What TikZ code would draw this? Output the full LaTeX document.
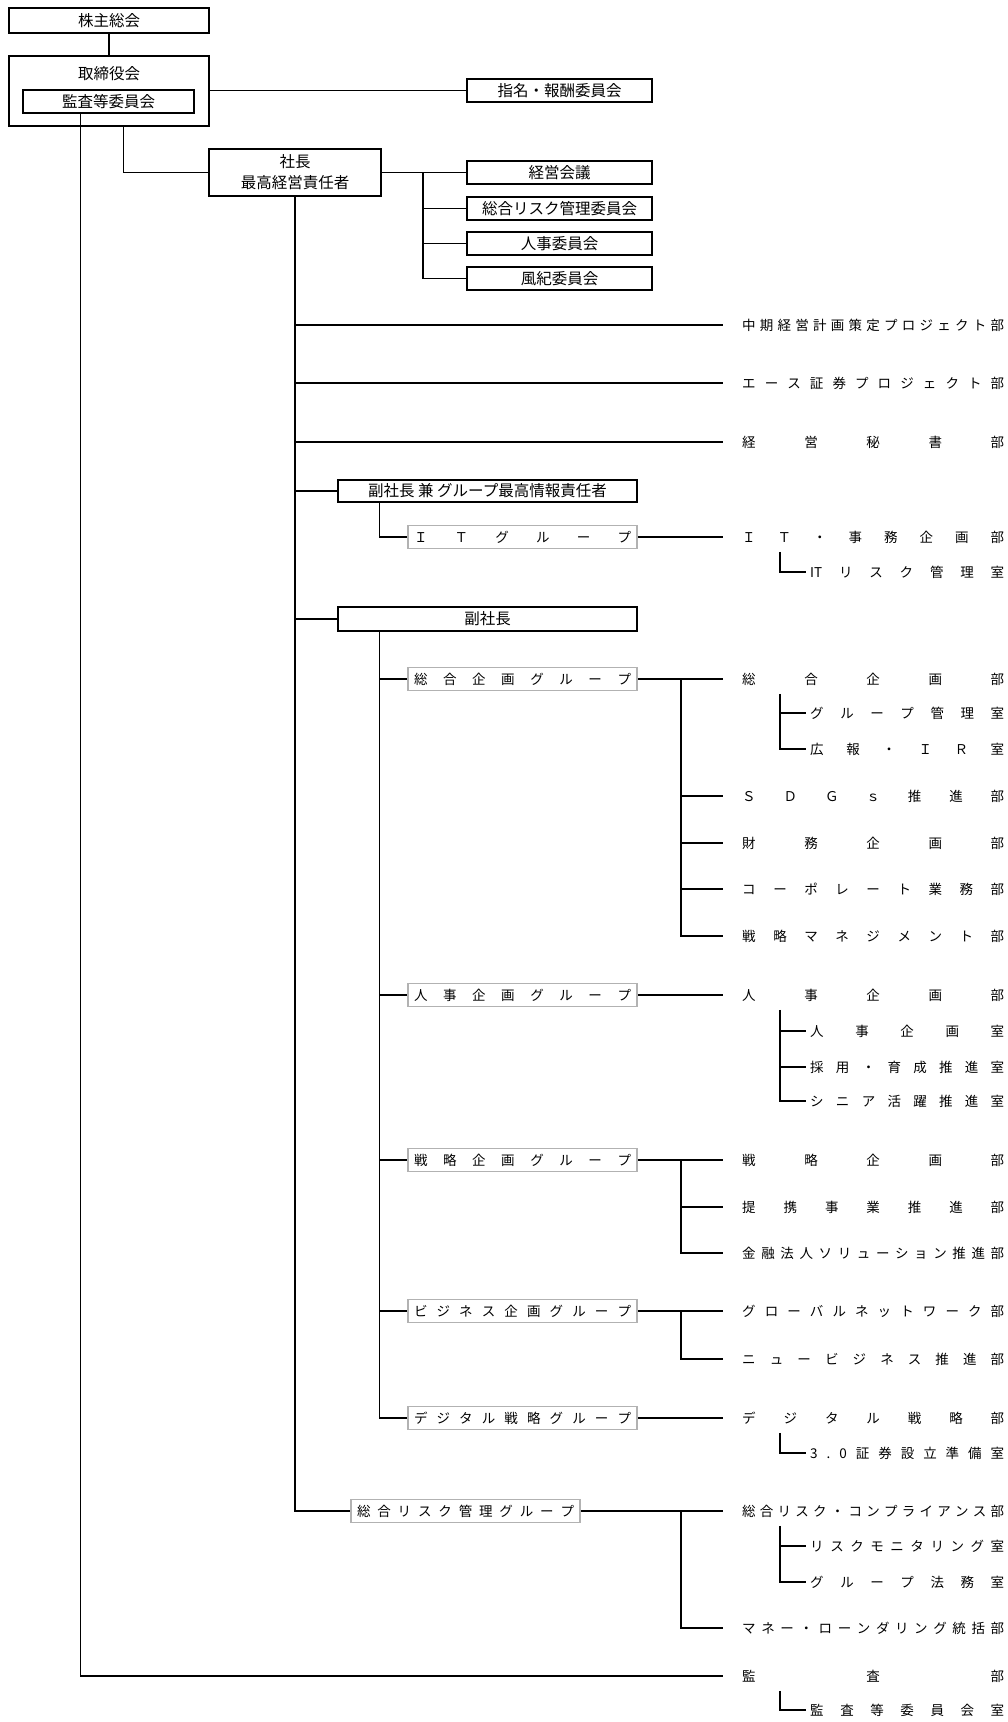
\documentclass[tikz,border=0pt]{standalone}
\usepackage{fontspec}
\setmainfont{Noto Sans CJK JP}
\makeatletter
\newcommand\distrib[2]{\hbox to #1{\let\dist@sep\relax\@tfor\dist@c:=#2\do{\dist@sep\dist@c\let\dist@sep\hfill}}}
\makeatother
\tikzset{
  bx/.style={draw, line width=1.4pt, fill=white, inner sep=0pt, font=\fontsize{15.5}{18}\selectfont},
  onel/.style={text height=13.4pt, text depth=1.9pt},
  cbx/.style={bx, onel, minimum width=185pt, minimum height=23pt},
  gbx/.style={draw=black!30, line width=1.6pt, fill=white, inner sep=0pt, minimum width=229pt, minimum height=23pt, text height=11.9pt, text depth=1.6pt, font=\fontsize{13.5}{16}\selectfont},
  lbl/.style={inner sep=0pt, onel, font=\fontsize{15.5}{18}\selectfont},
  dept/.style={anchor=west, inner sep=0pt, text height=11.9pt, text depth=1.6pt, font=\fontsize{13.5}{16}\selectfont},
  link/.style={line width=1.3pt},
  tod/.style={link, shorten >=19pt},
  tor/.style={link, shorten >=4pt},
}
\begin{document}
\begin{tikzpicture}[x=1pt,y=-1pt]
\fill[white] (0,0) rectangle (1008,1722);
\useasboundingbox (0,0) rectangle (1008,1722);

% ---- top boxes
\node[bx, onel, minimum width=200pt, minimum height=25pt] (kabu) at (109,20.5) {株主総会};
\node[bx, minimum width=200pt, minimum height=70pt] (tori) at (109,91) {};
\node[lbl] (tori-t) at (109,74) {取締役会};
\node[bx, onel, minimum width=171pt, minimum height=23pt] (kiin) at (108.5,101.5) {監査等委員会};
\node[cbx] (shimei) at (559.5,90.5) {指名・報酬委員会};
\node[bx, minimum width=172pt, minimum height=47pt] (pres) at (295,172.5) {};
\node[lbl] (pres-t1) at (295,162) {社長};
\node[lbl] (pres-t2) at (295,183) {最高経営責任者};
\node[cbx] (c1) at (559.5,172.5) {経営会議};
\node[cbx] (c2) at (559.5,208.5) {総合リスク管理委員会};
\node[cbx] (c3) at (559.5,243.5) {人事委員会};
\node[cbx] (c4) at (559.5,278.5) {風紀委員会};

% ---- vice presidents and groups
\node[bx, onel, minimum width=299pt, minimum height=22pt] (vpc) at (487.5,491) {副社長 兼 グループ最高情報責任者};
\node[bx, onel, minimum width=299pt, minimum height=24pt] (vp) at (487.5,619) {副社長};
\node[gbx] (g-it) at (522.5,537) {\distrib{217pt}{ＩＴグループ}};
\node[gbx] (g1) at (522.5,679) {\distrib{217pt}{総合企画グループ}};
\node[gbx] (g2) at (522.5,995) {\distrib{217pt}{人事企画グループ}};
\node[gbx] (g3) at (522.5,1160) {\distrib{217pt}{戦略企画グループ}};
\node[gbx] (g4) at (522.5,1311) {\distrib{217pt}{ビジネス企画グループ}};
\node[gbx] (g5) at (522.5,1418) {\distrib{217pt}{デジタル戦略グループ}};
\node[gbx] (g-risk) at (465.5,1511) {\distrib{217pt}{総合リスク管理グループ}};

% ---- departments
\node[dept] (d1) at (742,325) {\distrib{262pt}{中期経営計画策定プロジェクト部}};
\node[dept] (d2) at (742,383) {\distrib{262pt}{エース証券プロジェクト部}};
\node[dept] (d3) at (742,442) {\distrib{262pt}{経営秘書部}};
\node[dept] (d-it) at (742,537) {\distrib{262pt}{ＩＴ・事務企画部}};
\node[dept] (d-soki) at (742,679) {\distrib{262pt}{総合企画部}};
\node[dept] (d-sdgs) at (742,796) {\distrib{262pt}{ＳＤＧｓ推進部}};
\node[dept] (d-zaimu) at (742,843) {\distrib{262pt}{財務企画部}};
\node[dept] (d-corp) at (742,889) {\distrib{262pt}{コーポレート業務部}};
\node[dept] (d-senm) at (742,936) {\distrib{262pt}{戦略マネジメント部}};
\node[dept] (d-jinji) at (742,995) {\distrib{262pt}{人事企画部}};
\node[dept] (d-senr) at (742,1160) {\distrib{262pt}{戦略企画部}};
\node[dept] (d-teik) at (742,1207) {\distrib{262pt}{提携事業推進部}};
\node[dept] (d-kinyu) at (742,1253) {\distrib{262pt}{金融法人ソリューション推進部}};
\node[dept] (d-glob) at (742,1311) {\distrib{262pt}{グローバルネットワーク部}};
\node[dept] (d-newb) at (742,1359) {\distrib{262pt}{ニュービジネス推進部}};
\node[dept] (d-digi) at (742,1418) {\distrib{262pt}{デジタル戦略部}};
\node[dept] (d-risk) at (742,1511) {\distrib{262pt}{総合リスク・コンプライアンス部}};
\node[dept] (d-mane) at (742,1628) {\distrib{262pt}{マネー・ローンダリング統括部}};
\node[dept] (d-kansa) at (742,1676) {\distrib{262pt}{監査部}};

% ---- rooms
\node[dept] (r-itr) at (810,572) {\distrib{194pt}{{IT}リスク管理室}};
\node[dept] (r-gkan) at (810,713) {\distrib{194pt}{グループ管理室}};
\node[dept] (r-koho) at (810,749) {\distrib{194pt}{広報・ＩＲ室}};
\node[dept] (r-jinji) at (810,1031) {\distrib{194pt}{人事企画室}};
\node[dept] (r-saiyo) at (810,1067) {\distrib{194pt}{採用・育成推進室}};
\node[dept] (r-senior) at (810,1101) {\distrib{194pt}{シニア活躍推進室}};
\node[dept] (r-30) at (810,1453) {\distrib{194pt}{3.0証券設立準備室}};
\node[dept] (r-mon) at (810,1546) {\distrib{194pt}{リスクモニタリング室}};
\node[dept] (r-houm) at (810,1582) {\distrib{194pt}{グループ法務室}};
\node[dept] (r-kiin) at (810,1710) {\distrib{194pt}{監査等委員会室}};

% ---- connectors: top
\draw[link] (kabu.south) -- (tori.north);
\draw[link] (shimei.west -| tori.east) -- (shimei.west);
\draw[link] ([xshift=115pt]tori.south west) |- (pres.west);
\draw[link] (pres.east) -- (c1.west);
\coordinate (cv) at (423,172.5);
\draw[link] (cv) |- (c4.west);
\draw[link] (cv |- c2.west) -- (c2.west);
\draw[link] (cv |- c3.west) -- (c3.west);

% ---- president trunk
\draw[link] (pres.south) |- (g-risk.west);
\draw[tod] (pres.south |- d1.west) -- (d1.west);
\draw[tod] (pres.south |- d2.west) -- (d2.west);
\draw[tod] (pres.south |- d3.west) -- (d3.west);
\draw[link] (pres.south |- vpc.west) -- (vpc.west);
\draw[link] (pres.south |- vp.west) -- (vp.west);

% ---- IT
\draw[link] ([xshift=42pt]vpc.south west) |- (g-it.west);
\draw[tod] (g-it.east) -- (d-it.west);
\coordinate (v-it) at ([xshift=38pt,yshift=-8pt]d-it.south west);
\draw[tor] (v-it) |- (r-itr.west);

% ---- vice president trunk
\coordinate (vt) at ([xshift=42pt]vp.south west);
\draw[link] (vt) |- (g5.west);
\draw[link] (vt |- g1.west) -- (g1.west);
\draw[link] (vt |- g2.west) -- (g2.west);
\draw[link] (vt |- g3.west) -- (g3.west);
\draw[link] (vt |- g4.west) -- (g4.west);

% group 1
\draw[tod] (g1.east) -- (d-soki.west);
\coordinate (s1) at (681,679);
\draw[tod] (s1) |- (d-senm.west);
\draw[tod] (s1 |- d-sdgs.west) -- (d-sdgs.west);
\draw[tod] (s1 |- d-zaimu.west) -- (d-zaimu.west);
\draw[tod] (s1 |- d-corp.west) -- (d-corp.west);
\coordinate (v-soki) at ([xshift=38pt,yshift=-8pt]d-soki.south west);
\draw[tor] (v-soki) |- (r-koho.west);
\draw[tor] (v-soki |- r-gkan.west) -- (r-gkan.west);

% group 2
\draw[tod] (g2.east) -- (d-jinji.west);
\coordinate (v-jinji) at ([xshift=38pt,yshift=-8pt]d-jinji.south west);
\draw[tor] (v-jinji) |- (r-senior.west);
\draw[tor] (v-jinji |- r-jinji.west) -- (r-jinji.west);
\draw[tor] (v-jinji |- r-saiyo.west) -- (r-saiyo.west);

% group 3
\draw[tod] (g3.east) -- (d-senr.west);
\coordinate (s3) at (681,1160);
\draw[tod] (s3) |- (d-kinyu.west);
\draw[tod] (s3 |- d-teik.west) -- (d-teik.west);

% group 4
\draw[tod] (g4.east) -- (d-glob.west);
\coordinate (s4) at (681,1311);
\draw[tod] (s4) |- (d-newb.west);

% group 5
\draw[tod] (g5.east) -- (d-digi.west);
\coordinate (v-digi) at ([xshift=38pt,yshift=-8pt]d-digi.south west);
\draw[tor] (v-digi) |- (r-30.west);

% risk group
\draw[tod] (g-risk.east) -- (d-risk.west);
\coordinate (s6) at (681,1511);
\draw[tod] (s6) |- (d-mane.west);
\coordinate (v-risk) at ([xshift=38pt,yshift=-8pt]d-risk.south west);
\draw[tor] (v-risk) |- (r-houm.west);
\draw[tor] (v-risk |- r-mon.west) -- (r-mon.west);

% audit
\draw[tod] ([xshift=58pt]kiin.south west) |- (d-kansa.west);
\coordinate (v-kansa) at ([xshift=38pt,yshift=-8pt]d-kansa.south west);
\draw[tor] (v-kansa) |- (r-kiin.west);
\end{tikzpicture}
\end{document}
